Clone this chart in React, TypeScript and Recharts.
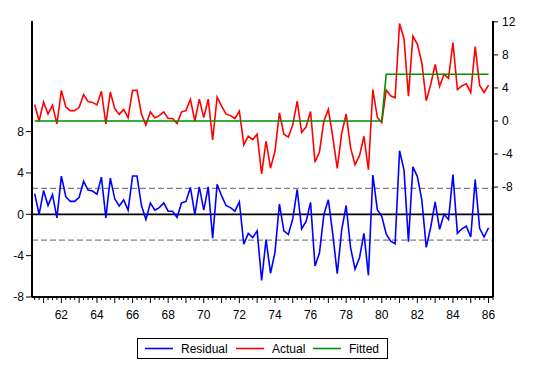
import React from "react";
import { LineChart, Line, XAxis, YAxis, ReferenceLine } from "recharts";

// Quarterly sample 1960Q3 - 1986Q1
const startYear = 1960;
const startQuarter = 3;

const residual = [
  2.0, 0.0, 2.3, 0.85, 1.9, -0.35, 3.7, 1.7, 1.25, 1.25,
  1.65, 3.2, 2.35, 2.25, 1.95, 3.6, -0.35, 3.5, 1.5, 0.8,
  1.4, 0.4, 3.7, 3.7, 0.85, -0.5, 1.1, 0.4, 0.65, 1.1,
  0.3, 0.3, -0.3, 1.1, 1.25, 2.6, 0.0, 2.65, 0.4, 2.65,
  -2.3, 2.9, 1.8, 0.85, 0.65, 0.3, 1.2, -2.9, -1.85, -2.25,
  -1.6, -6.4, -2.45, -5.7, -3.7, 1.0, -1.6, -1.95, -0.45, 2.4,
  -1.4, -0.7, 1.15, -5.0, -3.75, 0.0, 1.4, -1.95, -5.75, -1.5,
  0.85, -3.25, -5.3, -4.2, -1.85, -5.9, 3.8, 0.45, -0.2, -1.9,
  -2.6, -2.85, 6.15, 4.3, -2.65, 4.6, 3.65, 1.4, -3.2, -1.25,
  1.2, -1.45, 0.0, -0.5, 3.85, -1.85, -1.4, -1.15, -2.2, 3.35,
  -1.35, -2.2, -1.3,
];

const actual = [
  2.0, 0.0, 2.3, 0.85, 1.9, -0.35, 3.7, 1.7, 1.25, 1.25,
  1.65, 3.2, 2.35, 2.25, 1.95, 3.6, -0.35, 3.5, 1.5, 0.8,
  1.4, 0.4, 3.7, 3.7, 0.85, -0.5, 1.1, 0.4, 0.65, 1.1,
  0.3, 0.3, -0.3, 1.1, 1.25, 2.6, 0.0, 2.65, 0.4, 2.65,
  -2.3, 2.9, 1.8, 0.85, 0.65, 0.3, 1.2, -2.9, -1.85, -2.25,
  -1.6, -6.4, -2.45, -5.7, -3.7, 1.0, -1.6, -1.95, -0.45, 2.4,
  -1.4, -0.7, 1.15, -5.0, -3.75, 0.0, 1.4, -1.95, -5.75, -1.5,
  0.85, -3.25, -5.3, -4.2, -1.85, -5.9, 3.8, 0.45, -0.2, 3.75,
  3.05, 2.8, 11.8, 9.95, 3.0, 10.25, 9.3, 7.05, 2.45, 4.4,
  6.85, 4.2, 5.65, 5.15, 9.5, 3.8, 4.25, 4.5, 3.45, 9.0,
  4.3, 3.45, 4.35,
];

const fitted = [
  0, 0, 0, 0, 0, 0, 0, 0, 0, 0,
  0, 0, 0, 0, 0, 0, 0, 0, 0, 0,
  0, 0, 0, 0, 0, 0, 0, 0, 0, 0,
  0, 0, 0, 0, 0, 0, 0, 0, 0, 0,
  0, 0, 0, 0, 0, 0, 0, 0, 0, 0,
  0, 0, 0, 0, 0, 0, 0, 0, 0, 0,
  0, 0, 0, 0, 0, 0, 0, 0, 0, 0,
  0, 0, 0, 0, 0, 0, 0, 0, 0, 5.65,
  5.65, 5.65, 5.65, 5.65, 5.65, 5.65, 5.65, 5.65, 5.65, 5.65,
  5.65, 5.65, 5.65, 5.65, 5.65, 5.65, 5.65, 5.65, 5.65, 5.65,
  5.65, 5.65, 5.65,
];

const leftTicks = [-8, -4, 0, 4, 8];
const rightTicks = [-8, -4, 0, 4, 8, 12];
const residualBand = 2.5;

const periods = residual.map((_, i) => startYear + (startQuarter - 1 + i) / 4);
const data = residual.map((r, i) => ({
  t: periods[i],
  residual: r,
  actual: actual[i],
  fitted: fitted[i],
}));

const xDomain = [1960.35, 1986.25];
const xTicks: number[] = [];
for (let q = 0; startYear + (startQuarter - 1 + q) / 4 <= 1986.25; q++) {
  xTicks.push(startYear + (startQuarter - 1 + q) / 4);
}

const FONT = "'Liberation Sans', Arial, Helvetica, sans-serif";

const XTick = (props: any) => {
  const { x, y, payload } = props;
  const v = payload.value;
  const isYear = Math.abs(v - Math.round(v)) < 1e-6;
  const yr = Math.round(v);
  return (
    <g>
      <line x1={x} x2={x} y1={y} y2={y + (isYear ? 6 : 3)} stroke="#000" strokeWidth={1} />
      {isYear && yr % 2 === 0 ? (
        <text x={x} y={y + 22} textAnchor="middle" fontSize={12} fontFamily={FONT} fill="#000">
          {String(yr % 100)}
        </text>
      ) : null}
    </g>
  );
};

const legendItems = [
  { name: "Residual", color: "#0000ff", lx: 8, tx: 44 },
  { name: "Actual", color: "#ff0000", lx: 99, tx: 135 },
  { name: "Fitted", color: "#009000", lx: 176, tx: 212 },
];

export default function App() {
  return (
    <div style={{ position: "absolute", left: 0, top: 0, width: 538, height: 380, background: "#fff" }}>
      <LineChart
        width={538}
        height={380}
        data={data}
        margin={{ top: 21, right: 0, bottom: 58, left: 0 }}
      >
        <XAxis
          dataKey="t"
          type="number"
          domain={xDomain}
          ticks={xTicks}
          interval={0}
          tick={<XTick />}
          tickLine={false}
          tickSize={0}
          tickMargin={0}
          height={25}
          allowDataOverflow
          axisLine={{ stroke: "#000", strokeWidth: 2 }}
        />
        <XAxis
          xAxisId="top"
          orientation="top"
          type="number"
          domain={xDomain}
          height={0}
          tick={false}
          tickLine={false}
          allowDataOverflow
          axisLine={{ stroke: "#000", strokeWidth: 2 }}
        />
        <YAxis
          yAxisId="left"
          width={32}
          domain={[-8, 18.7]}
          ticks={leftTicks}
          interval={0}
          allowDataOverflow
          tickSize={6}
          tickMargin={2}
          tick={{ fontSize: 12, fontFamily: FONT, fill: "#000" }}
          tickLine={{ stroke: "#000" }}
          axisLine={{ stroke: "#000", strokeWidth: 2 }}
        />
        <YAxis
          yAxisId="right"
          orientation="right"
          width={45}
          domain={[-21.3, 12.1]}
          ticks={rightTicks}
          interval={0}
          allowDataOverflow
          tickSize={5}
          tickMargin={4}
          tick={{ fontSize: 12, fontFamily: FONT, fill: "#000" }}
          tickLine={{ stroke: "#000" }}
          axisLine={{ stroke: "#000", strokeWidth: 2 }}
        />
        <ReferenceLine yAxisId="left" y={residualBand} stroke="#808080" strokeWidth={1.2} strokeDasharray="6 3" />
        <ReferenceLine yAxisId="left" y={-residualBand} stroke="#808080" strokeWidth={1.2} strokeDasharray="6 3" />
        <ReferenceLine yAxisId="left" y={0} stroke="#000" strokeWidth={1.8} />
        <Line
          yAxisId="left"
          dataKey="residual"
          name="Residual"
          stroke="#0000ff"
          strokeWidth={1.6}
          dot={false}
          isAnimationActive={false}
        />
        <Line
          yAxisId="right"
          dataKey="actual"
          name="Actual"
          stroke="#ff0000"
          strokeWidth={1.6}
          dot={false}
          isAnimationActive={false}
        />
        <Line
          yAxisId="right"
          dataKey="fitted"
          name="Fitted"
          stroke="#009000"
          strokeWidth={1.6}
          dot={false}
          isAnimationActive={false}
        />
      </LineChart>
      <svg
        width={252}
        height={22}
        style={{ position: "absolute", left: 137, top: 338 }}
      >
        <rect x={0.5} y={0.5} width={250} height={20} fill="#fff" stroke="#000" strokeWidth={1} />
        {legendItems.map((it) => (
          <g key={it.name}>
            <line x1={it.lx} x2={it.lx + 28} y1={10.5} y2={10.5} stroke={it.color} strokeWidth={1.6} />
            <text x={it.tx} y={15} fontSize={12} fontFamily={FONT} fill="#000">
              {it.name}
            </text>
          </g>
        ))}
      </svg>
    </div>
  );
}
